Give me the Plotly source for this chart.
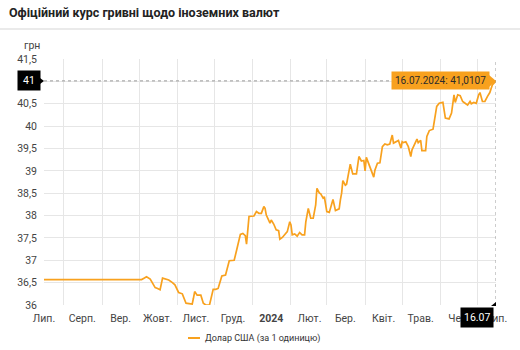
import plotly.graph_objects as go

# Official NBU hryvnia rate for the US dollar (UAH per 1 USD)
dates = [
    "2023-07-16", "2023-10-03", "2023-10-05", "2023-10-07", "2023-10-10", "2023-10-12",
    "2023-10-14", "2023-10-16", "2023-10-18", "2023-10-20", "2023-10-23", "2023-10-25",
    "2023-10-28", "2023-10-30", "2023-11-02", "2023-11-05", "2023-11-08", "2023-11-13",
    "2023-11-14", "2023-11-15", "2023-11-17", "2023-11-20", "2023-11-22", "2023-11-24",
    "2023-11-27", "2023-11-30", "2023-12-02", "2023-12-04", "2023-12-07", "2023-12-10",
    "2023-12-13", "2023-12-17", "2023-12-19", "2023-12-22", "2023-12-24", "2023-12-26",
    "2023-12-27", "2023-12-29", "2024-01-02", "2024-01-04", "2024-01-06", "2024-01-08",
    "2024-01-10", "2024-01-11", "2024-01-12", "2024-01-15", "2024-01-16", "2024-01-18",
    "2024-01-20", "2024-01-22", "2024-01-23", "2024-01-25", "2024-01-29", "2024-01-31",
    "2024-02-01", "2024-02-02", "2024-02-04", "2024-02-06", "2024-02-08", "2024-02-10",
    "2024-02-12", "2024-02-13", "2024-02-15", "2024-02-17", "2024-02-19", "2024-02-21",
    "2024-02-22", "2024-02-24", "2024-02-25", "2024-02-27", "2024-02-28", "2024-03-01",
    "2024-03-03", "2024-03-05", "2024-03-06", "2024-03-08", "2024-03-11", "2024-03-12",
    "2024-03-13", "2024-03-14", "2024-03-16", "2024-03-17", "2024-03-19", "2024-03-20",
    "2024-03-22", "2024-03-25", "2024-03-27", "2024-03-29", "2024-03-31", "2024-04-01",
    "2024-04-02", "2024-04-04", "2024-04-06", "2024-04-08", "2024-04-09", "2024-04-11",
    "2024-04-13", "2024-04-15", "2024-04-17", "2024-04-19", "2024-04-21", "2024-04-23",
    "2024-04-24", "2024-04-26", "2024-04-28", "2024-04-30", "2024-05-01", "2024-05-02",
    "2024-05-04", "2024-05-06", "2024-05-08", "2024-05-09", "2024-05-11", "2024-05-13",
    "2024-05-14", "2024-05-16", "2024-05-17", "2024-05-20", "2024-05-21", "2024-05-23",
    "2024-05-26", "2024-05-28", "2024-05-29", "2024-05-31", "2024-06-03", "2024-06-05",
    "2024-06-08", "2024-06-10", "2024-06-12", "2024-06-13", "2024-06-15", "2024-06-17",
    "2024-06-19", "2024-06-21", "2024-06-23", "2024-06-25", "2024-06-26", "2024-06-28",
    "2024-06-30", "2024-07-02", "2024-07-03", "2024-07-05", "2024-07-07", "2024-07-09",
    "2024-07-11", "2024-07-13", "2024-07-15", "2024-07-16",
]
usd_rate = [
    36.5686, 36.5686, 36.60, 36.63, 36.58, 36.47,
    36.39, 36.37, 36.34, 36.60, 36.58, 36.56,
    36.50, 36.45, 36.28, 36.25, 36.04, 36.02,
    36.15, 36.30, 36.22, 36.22, 36.04, 36.00,
    36.00, 36.35, 36.35, 36.37, 36.65, 36.67,
    36.99, 37.00, 37.23, 37.58, 37.60, 37.55,
    37.36, 37.98, 37.99, 38.09, 38.05, 38.05,
    38.20, 38.16, 38.01, 37.83, 37.90, 37.81,
    37.68, 37.66, 37.47, 37.51, 37.64, 37.86,
    37.79, 37.57, 37.59, 37.54, 37.62, 37.57,
    37.57, 37.86, 38.16, 37.94, 37.94, 38.24,
    38.61, 38.50, 38.49, 38.39, 38.42, 38.09,
    38.07, 38.28, 38.36, 38.11, 38.15, 38.35,
    38.50, 38.78, 38.68, 38.70, 38.95, 39.15,
    38.93, 38.93, 39.32, 39.22, 39.23, 39.00,
    39.30, 39.15, 39.00, 38.86, 39.02, 39.17,
    39.18, 39.54, 39.60, 39.58, 39.60, 39.80,
    39.62, 39.65, 39.68, 39.51, 39.65, 39.63,
    39.65, 39.54, 39.32, 39.47, 39.58, 39.71,
    39.63, 39.68, 39.45, 39.45, 39.77, 39.90,
    39.93, 40.25, 40.44, 40.51, 40.53, 40.18,
    40.16, 40.29, 40.70, 40.53, 40.70, 40.68,
    40.55, 40.51, 40.47, 40.55, 40.50, 40.53,
    40.51, 40.70, 40.75, 40.55, 40.55, 40.66,
    40.75, 40.92, 40.99, 41.0107,
]

# Month labels sit mid-month, grid lines at the start of each month
month_label_dates = [
    "2023-07-16", "2023-08-16", "2023-09-16", "2023-10-16", "2023-11-16", "2023-12-16",
    "2024-01-16", "2024-02-16", "2024-03-16", "2024-04-16", "2024-05-16", "2024-06-16",
    "2024-07-16",
]
month_labels = ["Лип.", "Серп.", "Вер.", "Жовт.", "Лист.", "Груд.", "<b>2024</b>",
                "Лют.", "Бер.", "Квіт.", "Трав.", "Чер.", "Лип."]
month_starts = ["2023-08-01", "2023-09-01", "2023-10-01", "2023-11-01", "2023-12-01",
                "2024-01-01", "2024-02-01", "2024-03-01", "2024-04-01", "2024-05-01",
                "2024-06-01", "2024-07-01"]
y_ticks = [36, 36.5, 37, 37.5, 38, 38.5, 39, 39.5, 40, 40.5, 41, 41.5]
y_labels = [f"{v:g}".replace(".", ",") for v in y_ticks]

series_name = "Долар США (за 1 одиницю)"
title_text = "Офіційний курс гривні щодо іноземних валют"
unit_text = "грн"

W, H = 520, 350
ML, MR, MT, MB = 44, 24, 59, 45
PW, PH = W - ML - MR, H - MT - MB

def px_x(px):
    return (px - ML) / PW

def px_y(py):
    return (H - MB - py) / PH

LINE_COLOR = "#f8a11e"
GRID = "#e6e6e6"
TEXT = "#444444"
FONT = "Roboto, Arial, sans-serif"

fig = go.Figure()
fig.add_trace(go.Scatter(
    x=dates, y=usd_rate, mode="lines", name=series_name,
    line=dict(color=LINE_COLOR, width=1.7), showlegend=False, hoverinfo="skip",
))

last_x, last_y = dates[-1], usd_rate[-1]
d = last_x.split("-")
tip_text = f"{d[2]}.{d[1]}.{d[0]}: " + f"{last_y:.4f}".replace(".", ",")

shapes = [
    # rule under the header
    dict(type="line", xref="paper", yref="paper", x0=px_x(0), x1=px_x(W),
         y0=px_y(29), y1=px_y(29), line=dict(color="#e3e3e3", width=1.5)),
    # crosshair
    dict(type="line", xref="x", yref="y", x0=dates[0], x1=last_x, y0=last_y, y1=last_y,
         line=dict(color="#9a9a9a", width=1, dash="dot")),
    dict(type="line", xref="x", yref="paper", x0=last_x, x1=last_x, y0=0, y1=1,
         line=dict(color="#9a9a9a", width=1, dash="dot")),
    # pointer of the value tooltip
    dict(type="path", xref="x", yref="y", xsizemode="pixel", ysizemode="pixel",
         xanchor=last_x, yanchor=last_y, path="M -7,-6 L 0,0 L -7,6 Z",
         fillcolor=LINE_COLOR, line=dict(width=0)),
    # pointer of the y-axis label
    dict(type="path", xref="paper", yref="y", xsizemode="pixel", ysizemode="pixel",
         xanchor=0, yanchor=last_y, path="M -4,-3 L 0,0 L -4,3 Z",
         fillcolor="#000000", line=dict(width=0)),
    # pointer of the x-axis label
    dict(type="path", xref="x", yref="paper", xsizemode="pixel", ysizemode="pixel",
         xanchor=last_x, yanchor=0, path="M -5,-1 L 0,3 L 0,-1 Z",
         fillcolor="#000000", line=dict(width=0)),
    # legend swatch
    dict(type="line", xref="paper", yref="paper", x0=px_x(188), x1=px_x(200),
         y0=px_y(338), y1=px_y(338), line=dict(color=LINE_COLOR, width=2)),
]

annotations = [
    dict(text=unit_text, xref="paper", yref="paper", x=px_x(22), y=px_y(45),
         xanchor="left", yanchor="middle", showarrow=False,
         font=dict(family=FONT, size=10.5, color=TEXT)),
    dict(text=tip_text, xref="x", yref="y", x=last_x, y=last_y, xanchor="right",
         yanchor="middle", xshift=-6, showarrow=False, bgcolor=LINE_COLOR, borderpad=3,
         font=dict(family=FONT, size=10, color="#2b2b2b")),
    dict(text=f"{last_y:.0f}", xref="paper", yref="y", x=0, y=last_y, xanchor="right",
         yanchor="middle", xshift=-3, showarrow=False, bgcolor="#000000", borderpad=3,
         width=16, font=dict(family=FONT, size=10.5, color="#ffffff")),
    dict(text=f"{d[2]}.{d[1]}", xref="x", yref="paper", x=last_x, y=0, xanchor="right",
         yanchor="top", xshift=-2, yshift=-2, showarrow=False, bgcolor="#000000",
         borderpad=3, font=dict(family=FONT, size=10.5, color="#ffffff")),
    dict(text=series_name, xref="paper", yref="paper", x=px_x(203), y=px_y(338),
         xanchor="left", yanchor="middle", showarrow=False,
         font=dict(family=FONT, size=9, color="#333333")),
]

fig.update_layout(
    width=W, height=H,
    margin=dict(l=ML, r=MR, t=MT, b=MB),
    paper_bgcolor="#ffffff", plot_bgcolor="#ffffff",
    font=dict(family=FONT, size=10.5, color=TEXT),
    title=dict(text=f"<b>{title_text}</b>", x=9 / W, xanchor="left", xref="container",
               y=1 - 13 / H, yanchor="middle", yref="container",
               font=dict(family=FONT, size=12.5, color="#222222")),
    showlegend=False,
    shapes=shapes,
    annotations=annotations,
    xaxis=dict(
        type="date", range=[dates[0], dates[-1]],
        tickmode="array", tickvals=month_label_dates, ticktext=month_labels,
        showgrid=False, zeroline=False, showline=False, ticks="",
        ticklabelstandoff=5,
        tickfont=dict(family=FONT, size=10.5, color=TEXT),
        minor=dict(tickmode="array", tickvals=month_starts, showgrid=True,
                   gridcolor=GRID, gridwidth=1, ticks=""),
    ),
    yaxis=dict(
        range=[36, 41.5], tickmode="array", tickvals=y_ticks, ticktext=y_labels,
        showgrid=True, gridcolor=GRID, gridwidth=1, zeroline=False, showline=False,
        ticks="", ticklabelstandoff=6,
        tickfont=dict(family=FONT, size=10.5, color=TEXT),
    ),
)

fig.write_html("out.html")
